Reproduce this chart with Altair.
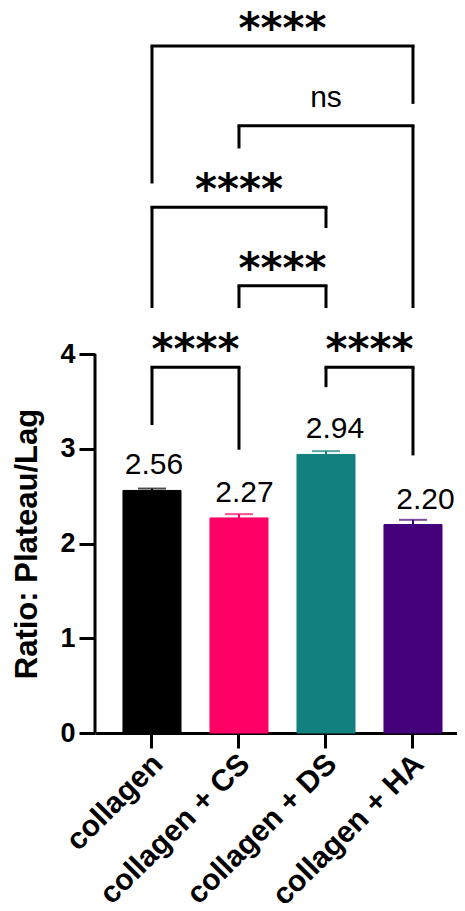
import altair as alt
import pandas as pd

groups = ["collagen", "collagen + CS", "collagen + DS", "collagen + HA"]
means = [2.56, 2.27, 2.94, 2.20]
errors = [0.02, 0.04, 0.035, 0.05]
labels = ["2.56", "2.27", "2.94", "2.20"]
colors = ["#000000", "#FF0066", "#12807E", "#43007A"]

# significance brackets: left group, right group, bar height, left leg end, right leg end, label
br_left = ["collagen", "collagen + CS", "collagen", "collagen + CS", "collagen", "collagen + DS"]
br_right = ["collagen + HA", "collagen + HA", "collagen + DS", "collagen + DS", "collagen + CS", "collagen + HA"]
br_top = [7.25, 6.41, 5.55, 4.72, 3.86, 3.86]
br_leg_l = [5.80, 6.17, 4.485, 4.485, 3.25, 3.65]
br_leg_r = [6.64, 4.485, 5.33, 4.485, 2.99, 2.93]
br_text = ["****", "ns", "****", "****", "****", "****"]

W, H = 362, 725
YMAX = 7.652
PI, PO, AL = 0.333, 0.247, 0.651

df = pd.DataFrame({"g": groups, "m": means, "e": errors, "lab": labels, "c": colors})
df["top"] = df["m"] + df["e"]

xscale = alt.Scale(domain=groups, paddingInner=PI, paddingOuter=PO, align=AL)
yscale = alt.Scale(domain=[0, YMAX], nice=False, zero=True)


def xband(field):
    return alt.X(field, type="nominal", scale=xscale, sort=groups, axis=None)


x_main = alt.X("g:N", scale=xscale, sort=groups,
               axis=alt.Axis(title=None, labelAngle=-45, labelAlign="right", labelBaseline="middle",
                             labelFontSize=30, labelFontWeight="bold", labelFont="Liberation Sans",
                             labelColor="black", labelLimit=0, tickSize=15, tickWidth=3,
                             tickColor="black", domainWidth=3, domainColor="black",
                             labelPadding=11, labelOffset=6))
y_main = alt.Y("m:Q", scale=yscale,
               axis=alt.Axis(title="Ratio: Plateau/Lag", values=[0, 1, 2, 3, 4], format="d",
                             domain=False, grid=False, tickSize=16, tickWidth=3, tickColor="black",
                             labelFontSize=27, labelFontWeight="bold", labelFont="Liberation Sans",
                             labelColor="black", labelPadding=4,
                             titleFontSize=31, titleFontWeight="bold", titleFont="Liberation Sans",
                             titleColor="black", titleAngle=-90, titleBaseline="alphabetic",
                             titleX=-59, titleY=535.5, titleAlign="center"))

color_enc = alt.Color("c:N", scale=None)

bars = alt.Chart(df).mark_bar(strokeWidth=1).encode(
    x=x_main, y=y_main, color=color_enc, stroke=alt.Stroke("c:N", scale=None))

err_v = alt.Chart(df).mark_rule(strokeWidth=2).encode(
    x=xband("g"), y=alt.Y("m:Q", scale=yscale), y2="top:Q", color=color_enc)
err_cap = alt.Chart(df).mark_tick(size=28, thickness=2).encode(
    x=xband("g"), y=alt.Y("top:Q", scale=yscale), color=color_enc)

vals = alt.Chart(df).mark_text(fontSize=30, font="Liberation Sans", baseline="alphabetic",
                               dy=-16, color="black").encode(
    x=xband("g"), y=alt.Y("m:Q", scale=yscale), text="lab:N")

bdf = pd.DataFrame({"l": br_left, "r": br_right, "t": br_top, "ll": br_leg_l,
                    "lr": br_leg_r, "txt": br_text})
idx = {g: i for i, g in enumerate(groups)}
bdf["xm"] = [(idx[a] + idx[b]) / 2 for a, b in zip(br_left, br_right)]

h_lines = alt.Chart(bdf).mark_rule(strokeWidth=3, color="black", strokeCap="square").encode(
    x=xband("l"), x2="r:N", y=alt.Y("t:Q", scale=yscale))
leg_l = alt.Chart(bdf).mark_rule(strokeWidth=3, color="black").encode(
    x=xband("l"), y=alt.Y("t:Q", scale=yscale), y2="ll:Q")
leg_r = alt.Chart(bdf).mark_rule(strokeWidth=3, color="black").encode(
    x=xband("r"), y=alt.Y("t:Q", scale=yscale), y2="lr:Q")

# linear helper scale that reproduces the band centres, so labels sit between groups
n = len(groups)
step_px = W / (n - PI + 2 * PO)
c0 = (W - step_px * (n - PI)) * AL + step_px * (1 - PI) / 2
xq = alt.Scale(domain=[-c0 / step_px, (W - c0) / step_px], range=[0, W], nice=False, zero=False)

stars = alt.Chart(bdf).transform_filter(alt.datum.txt == "****").mark_text(
    fontSize=42, font="DejaVu Sans", fontWeight="bold", baseline="alphabetic", dy=-3, color="black"
).encode(x=alt.X("xm:Q", scale=xq, axis=None), y=alt.Y("t:Q", scale=yscale), text="txt:N")
ns = alt.Chart(bdf).transform_filter(alt.datum.txt == "ns").mark_text(
    fontSize=30, font="Liberation Sans", baseline="alphabetic", dy=-19, color="black"
).encode(x=alt.X("xm:Q", scale=xq, axis=None), y=alt.Y("t:Q", scale=yscale), text="txt:N")

axis_df = pd.DataFrame({"y0": [0], "y1": [4]})
yaxis_line = alt.Chart(axis_df).mark_rule(strokeWidth=3, color="black").encode(
    x=alt.value(0), y=alt.Y("y0:Q", scale=yscale), y2="y1:Q")

chart = alt.layer(bars, err_v, err_cap, vals, h_lines, leg_l, leg_r, stars, ns, yaxis_line).resolve_scale(
    x="independent"
).properties(
    width=W, height=H,
    autosize=alt.AutoSizeParams(type="none"),
    padding={"left": 87, "top": 0, "right": 0, "bottom": 170},
).configure_view(stroke=None).configure_axis(grid=False)

chart.save("out.html", embed_options={"renderer": "svg", "actions": False})
